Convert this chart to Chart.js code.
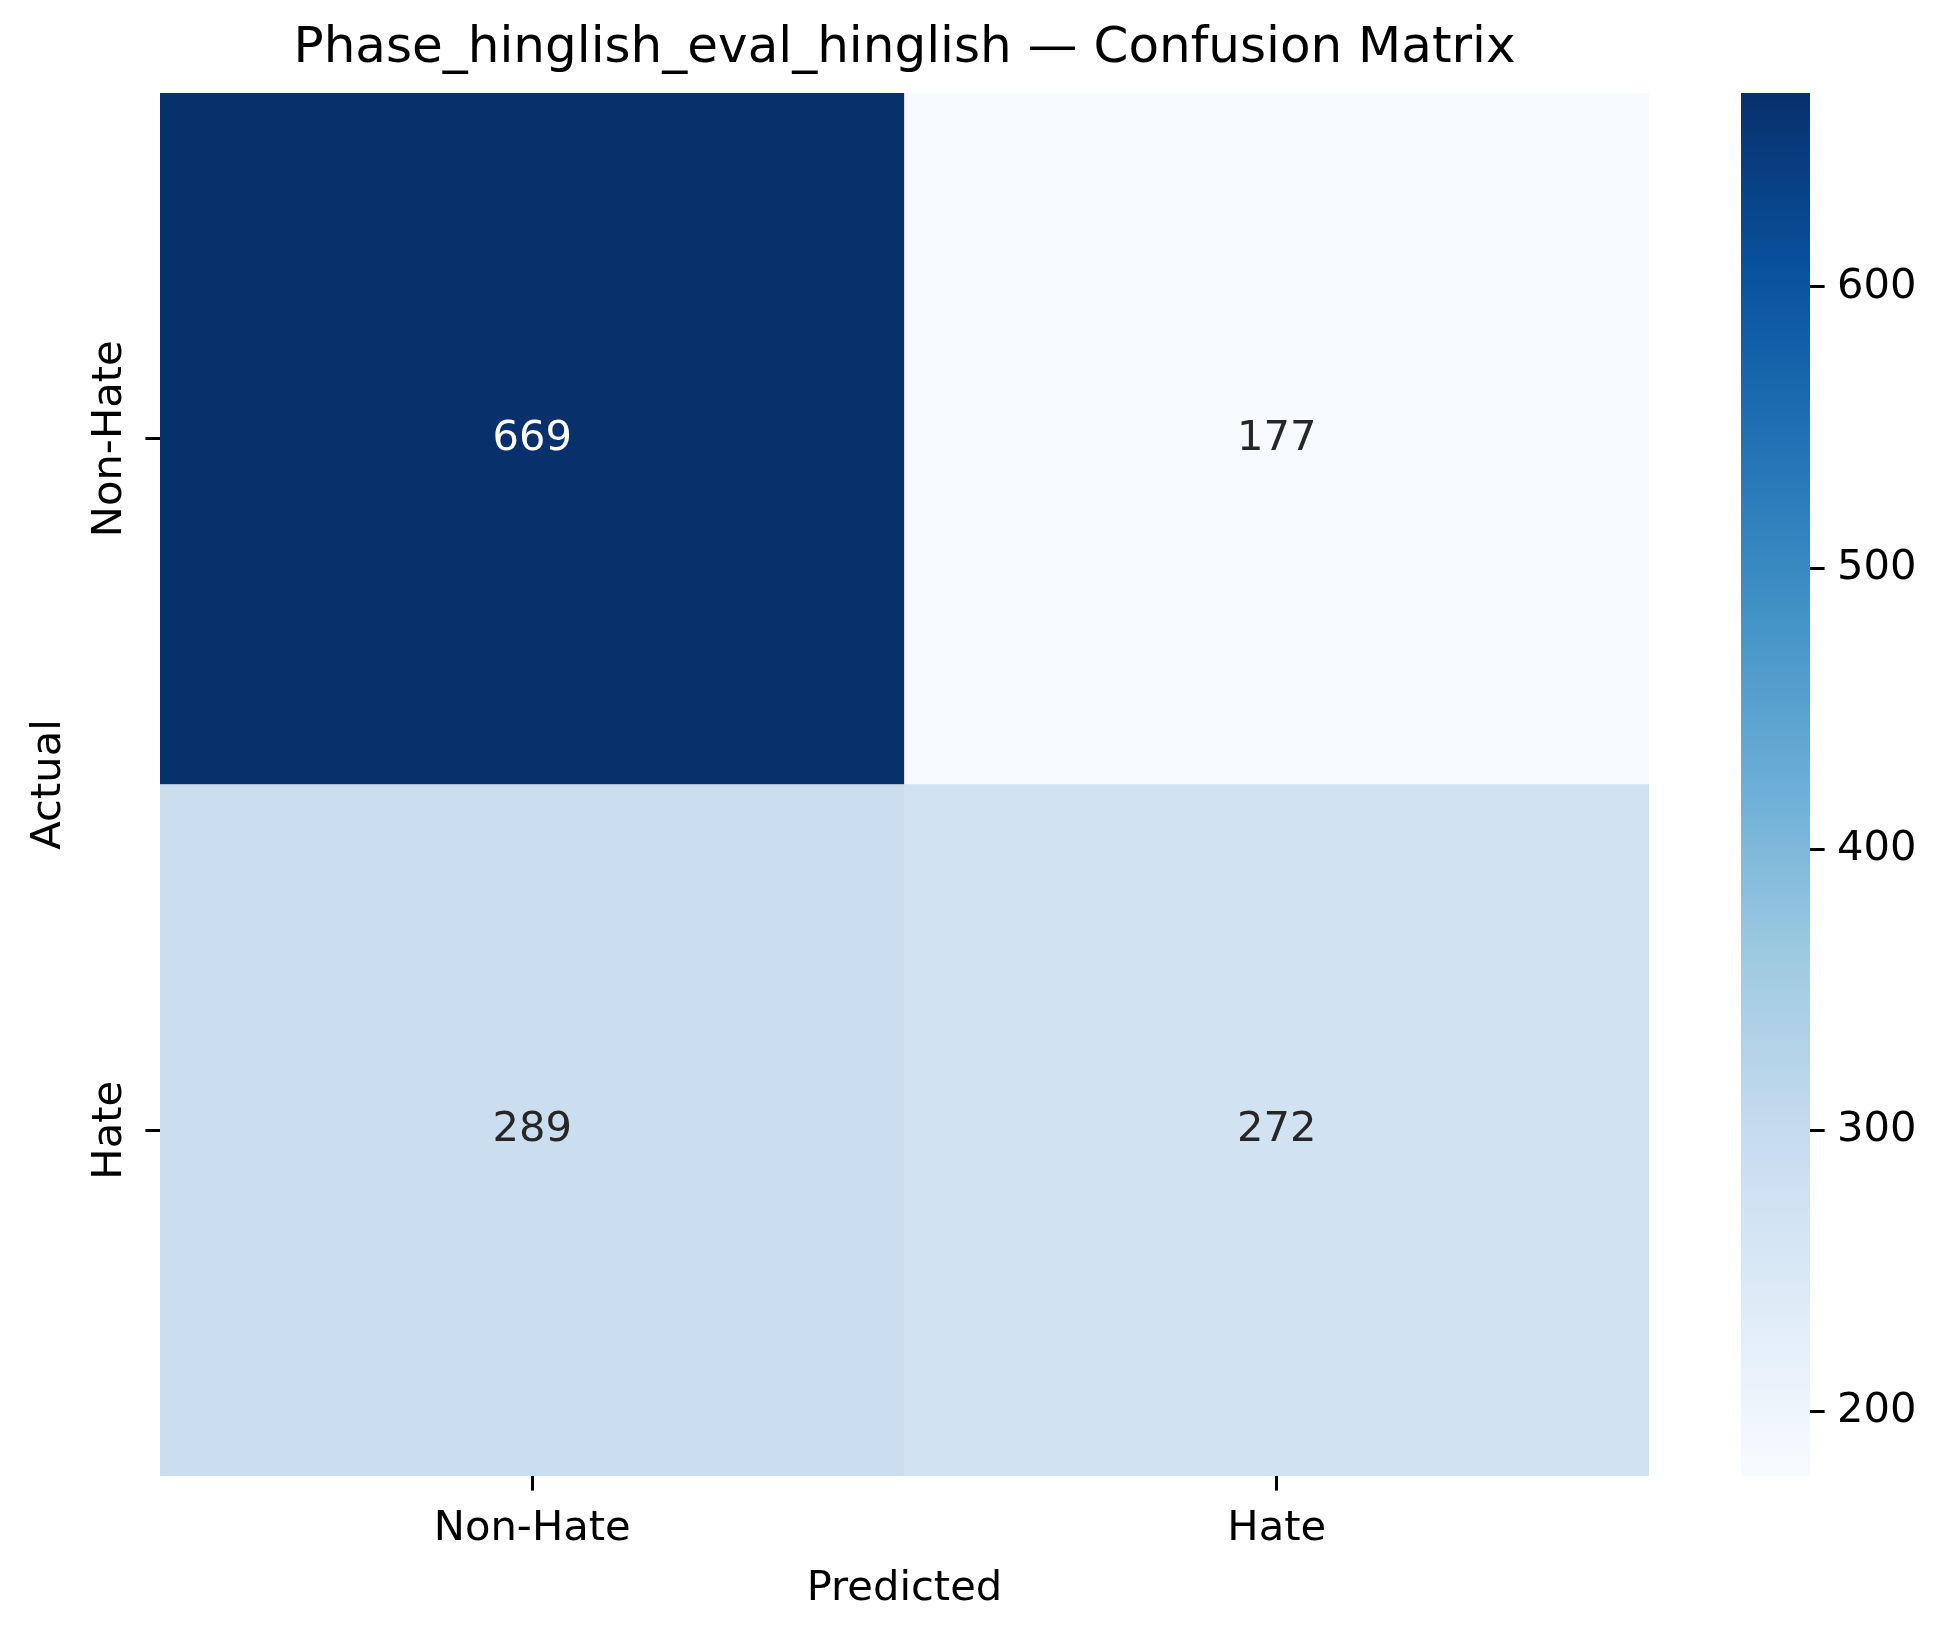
<!DOCTYPE html>
<html>
<head>
<meta charset="utf-8">
<title>Confusion Matrix</title>
<script src="https://cdn.jsdelivr.net/npm/chart.js@4.4.1/dist/chart.umd.min.js"></script>
<style>
  body { margin: 0; background: #fff; }
  #wrap { position: relative; width: 1948px; height: 1638px; }
  canvas { position: absolute; left: 0; top: 0; }
</style>
</head>
<body>
<div id="wrap">
  <canvas id="heatmap" width="1948" height="1638"></canvas>
  <canvas id="colorbar" width="1948" height="1638"></canvas>
</div>
<script>
// data
const classLabels = ['Non-Hate', 'Hate'];
const actualNonHate = [669, 177];   // predicted Non-Hate, Hate
const actualHate = [289, 272];
const colorbarTicks = [200, 300, 400, 500, 600];

const matrixRows = [actualNonHate, actualHate];
const allValues = [].concat(...matrixRows);
const vmin = Math.min(...allValues);
const vmax = Math.max(...allValues);

// matplotlib "Blues"
const blues = ['#f7fbff', '#deebf7', '#c6dbef', '#9ecae1', '#6baed6',
               '#4292c6', '#2171b5', '#08519c', '#08306b'];

// layout (pixels)
const W = 1948, H = 1638;
const PLOT_LEFT = 160, PLOT_RIGHT = 1649, PLOT_BOTTOM = 1476;
const CB_LEFT = 1741, CB_RIGHT = 1810;
const FONT = 41.67;
const TICK_LEN = 14.6;

function hexToRgb(h) {
  return [1, 3, 5].map(i => parseInt(h.substr(i, 2), 16));
}
function bluesRgb(t) {
  t = Math.min(1, Math.max(0, t));
  const pos = t * (blues.length - 1);
  const i = Math.min(Math.floor(pos), blues.length - 2);
  const f = pos - i;
  const a = hexToRgb(blues[i]), b = hexToRgb(blues[i + 1]);
  return a.map((v, k) => Math.round(v + (b[k] - v) * f));
}
function cellColor(v) {
  return 'rgb(' + bluesRgb((v - vmin) / (vmax - vmin)).join(',') + ')';
}
function textColor(v) {
  // seaborn picks white text on dark cells
  const lin = bluesRgb((v - vmin) / (vmax - vmin)).map(c => {
    c = c / 255;
    return c <= 0.03928 ? c / 12.92 : Math.pow((c + 0.055) / 1.055, 2.4);
  });
  const lum = 0.2126 * lin[0] + 0.7152 * lin[1] + 0.0722 * lin[2];
  return lum > 0.408 ? '#262626' : '#ffffff';
}

const cells = [];
matrixRows.forEach((row, i) => {
  row.forEach((v, j) => cells.push({x: classLabels[j], y: [i, i + 1], v: v}));
});

Chart.defaults.font.family = "'DejaVu Sans', sans-serif";
Chart.defaults.font.size = FONT;
Chart.defaults.color = '#000';

// rotated y labels: centre them next to the tick marks
const mctx = document.createElement('canvas').getContext('2d');
mctx.font = FONT + "px 'DejaVu Sans', sans-serif";
const widestY = Math.max(...classLabels.map(l => mctx.measureText(l).width));
const yTickPad = (PLOT_LEFT - TICK_LEN - 110) - widestY / 2;

const tickGrid = {
  display: true,
  drawOnChartArea: false,
  drawTicks: true,
  tickLength: TICK_LEN,
  tickWidth: 3,
  tickColor: '#000',
  offset: false
};

const cellText = {
  id: 'cellText',
  afterDatasetsDraw(chart) {
    const ctx = chart.ctx;
    const meta = chart.getDatasetMeta(0);
    ctx.save();
    ctx.font = FONT + "px 'DejaVu Sans', sans-serif";
    ctx.textAlign = 'center';
    ctx.textBaseline = 'middle';
    meta.data.forEach((bar, k) => {
      const p = bar.getCenterPoint();
      ctx.fillStyle = textColor(cells[k].v);
      ctx.fillText(String(cells[k].v), p.x, p.y);
    });
    ctx.restore();
  }
};

const heatmap = new Chart(document.getElementById('heatmap'), {
  type: 'bar',
  data: {
    labels: classLabels,
    datasets: [{
      data: cells,
      backgroundColor: ctx => cellColor(cells[ctx.dataIndex].v),
      borderWidth: 0,
      categoryPercentage: 1,
      barPercentage: 1
    }]
  },
  options: {
    responsive: false,
    animation: false,
    devicePixelRatio: 1,
    layout: {padding: {left: 0, right: W - PLOT_RIGHT, top: 0, bottom: 0}},
    plugins: {
      legend: {display: false},
      tooltip: {enabled: false},
      title: {
        display: true,
        text: 'Phase_hinglish_eval_hinglish \u2014 Confusion Matrix',
        fullSize: false,
        color: '#000',
        font: {size: 50, weight: 'normal'},
        padding: {top: 19, bottom: 14}
      }
    },
    scales: {
      x: {
        type: 'category',
        offset: true,
        grid: tickGrid,
        border: {display: false},
        ticks: {padding: 14, minRotation: 0, maxRotation: 0, color: '#000'},
        title: {display: true, text: 'Predicted', color: '#000', padding: {top: 0, bottom: 24}},
        afterFit(s) { s.height = H - PLOT_BOTTOM; }
      },
      y: {
        type: 'linear',
        min: 0,
        max: classLabels.length,
        reverse: true,
        afterBuildTicks(s) { s.ticks = classLabels.map((_, i) => ({value: i + 0.5})); },
        grid: tickGrid,
        border: {display: false},
        ticks: {
          callback: (v, i) => classLabels[i],
          minRotation: 90,
          maxRotation: 90,
          crossAlign: 'center',
          padding: yTickPad,
          autoSkip: false,
          color: '#000'
        },
        title: {display: true, text: 'Actual', color: '#000', padding: {top: 24, bottom: 0}},
        afterFit(s) { s.width = PLOT_LEFT; }
      }
    }
  },
  plugins: [cellText]
});

const area = heatmap.chartArea;

new Chart(document.getElementById('colorbar'), {
  type: 'bar',
  data: {
    labels: [''],
    datasets: [{
      data: [[vmin, vmax]],
      backgroundColor: ctx => {
        const chart = ctx.chart;
        if (!chart.chartArea) return blues[4];
        const y = chart.scales.y;
        const g = chart.ctx.createLinearGradient(0, y.getPixelForValue(vmin), 0, y.getPixelForValue(vmax));
        blues.forEach((c, i) => g.addColorStop(i / (blues.length - 1), c));
        return g;
      },
      borderWidth: 0,
      categoryPercentage: 1,
      barPercentage: 1
    }]
  },
  options: {
    responsive: false,
    animation: false,
    devicePixelRatio: 1,
    layout: {padding: {left: CB_LEFT, right: 0, top: area.top, bottom: H - area.bottom}},
    plugins: {
      legend: {display: false},
      tooltip: {enabled: false}
    },
    scales: {
      x: {display: false},
      y: {
        position: 'right',
        min: vmin,
        max: vmax,
        afterBuildTicks(s) { s.ticks = colorbarTicks.map(v => ({value: v})); },
        grid: tickGrid,
        border: {display: false},
        ticks: {padding: 12.5, color: '#000'},
        afterFit(s) { s.width = W - CB_RIGHT; }
      }
    }
  }
});
</script>
</body>
</html>
